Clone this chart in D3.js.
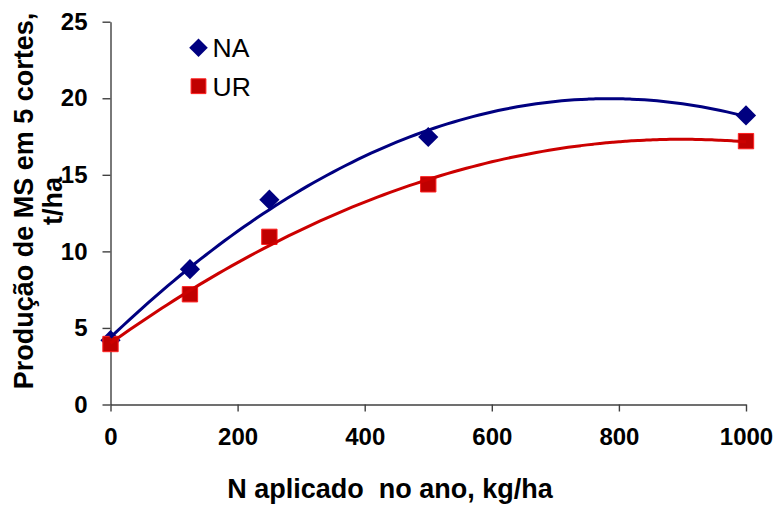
<!DOCTYPE html>
<html>
<head>
<meta charset="utf-8">
<script src="https://cdn.jsdelivr.net/npm/d3@7"></script>
<style>
  body { margin: 0; background: #fff; }
  text { font-family: "Liberation Sans", Arial, sans-serif; }
</style>
</head>
<body>
<svg id="chart" width="779" height="508"></svg>
<script>
// N applied (kg/ha)
const doses = [0, 125, 250, 500, 1000]
// dry matter, 5 cuts (t/ha)
const naValues = [4.2, 8.84, 13.38, 17.47, 18.88]
const urValues = [3.95, 7.2, 10.95, 14.38, 17.2]
const xTicks = [0, 200, 400, 600, 800, 1000]
const yTicks = [0, 5, 10, 15, 20, 25]

const width = 779, height = 508
const margin = {top: 21.7, right: 33, bottom: 103.5, left: 110.5}
const axisColor = '#404040'

var svg = d3.select('#chart')

var x = d3.scaleLinear().domain([0, 1000]).range([margin.left, width - margin.right])
var y = d3.scaleLinear().domain([0, 25]).range([height - margin.bottom, margin.top])

// quadratic least squares fit, like the excel trendline
function polyFit(xs, ys) {
  var s = [0, 0, 0, 0, 0], t = [0, 0, 0]
  for (var i = 0; i < xs.length; i++) {
    var p = 1
    for (var k = 0; k < 5; k++) {
      s[k] += p
      if (k < 3) t[k] += p * ys[i]
      p *= xs[i]
    }
  }
  var m = [[s[0], s[1], s[2], t[0]], [s[1], s[2], s[3], t[1]], [s[2], s[3], s[4], t[2]]]
  for (var c = 0; c < 3; c++) {
    for (var r = c + 1; r < 3; r++) {
      var f = m[r][c] / m[c][c]
      for (var j = c; j < 4; j++) m[r][j] -= f * m[c][j]
    }
  }
  var coef = [0, 0, 0]
  for (var r2 = 2; r2 >= 0; r2--) {
    var v = m[r2][3]
    for (var j2 = r2 + 1; j2 < 3; j2++) v -= m[r2][j2] * coef[j2]
    coef[r2] = v / m[r2][r2]
  }
  return (xv) => coef[0] + coef[1] * xv + coef[2] * xv * xv
}

// axes
var xAxis = svg.append('g')
  .attr('transform', 'translate(0,' + y(0) + ')')
  .call(d3.axisBottom(x).tickValues(xTicks).tickFormat(d3.format('d'))
    .tickSize(7).tickSizeOuter(0).tickPadding(16))
var yAxis = svg.append('g')
  .attr('transform', 'translate(' + x(0) + ',0)')
  .call(d3.axisLeft(y).tickValues(yTicks).tickFormat(d3.format('d'))
    .tickSize(8).tickSizeOuter(0).tickPadding(15))

;[xAxis, yAxis].forEach(function(a) {
  a.select('.domain').attr('stroke', axisColor).attr('stroke-width', 1.4)
  a.selectAll('.tick line').attr('stroke', axisColor).attr('stroke-width', 1.4)
  a.selectAll('.tick text')
    .attr('fill', '#000')
    .style('font-family', '"Liberation Sans", Arial, sans-serif')
    .style('font-size', '24px')
    .style('font-weight', 'bold')
})

// axis titles
svg.append('text')
  .attr('x', 390)
  .attr('y', 497.5)
  .attr('text-anchor', 'middle')
  .style('font-size', '27px')
  .style('font-weight', 'bold')
  .style('white-space', 'pre')
  .text('N aplicado  no ano, kg/ha')

var yTitle = svg.append('text')
  .attr('transform', 'translate(0,201) rotate(-90)')
  .attr('text-anchor', 'middle')
  .style('font-size', '27px')
  .style('font-weight', 'bold')
yTitle.append('tspan').attr('x', 0).attr('y', 33).text('Produção de MS em 5 cortes,')
yTitle.append('tspan').attr('x', 0).attr('y', 62).text('t/ha')

var series = [
  {name: 'NA', values: naValues, line: '#000080', fill: '#000080', stroke: 'none', shape: d3.symbolDiamond2},
  {name: 'UR', values: urValues, line: '#cc0000', fill: '#c00000', stroke: '#ff2020', shape: d3.symbolSquare2}
]

function markerPath(s, size) {
  return d3.symbol().type(s.shape).size(size)()
}

// markers
series.forEach(function(s) {
  var size = s.name === 'NA' ? 260 : 300
  svg.append('g').selectAll('path')
    .data(doses)
    .enter()
    .append('path')
    .attr('d', markerPath(s, size))
    .attr('transform', (d, i) => 'translate(' + x(d) + ',' + y(s.values[i]) + ')')
    .attr('fill', s.fill)
    .attr('stroke', s.stroke)
    .attr('stroke-width', 1)
})

// trend lines
series.forEach(function(s) {
  var f = polyFit(doses.map((d) => d / 100), s.values)
  var pts = d3.range(0, 1000.1, 10)
  svg.append('path')
    .datum(pts)
    .attr('fill', 'none')
    .attr('stroke', s.line)
    .attr('stroke-width', 3)
    .attr('d', d3.line().x((d) => x(d)).y((d) => y(f(d / 100))).curve(d3.curveMonotoneX))
})

// legend
var legend = svg.append('g')
series.forEach(function(s, i) {
  var cy = i === 0 ? 47.7 : 86.2
  legend.append('path')
    .attr('d', markerPath(s, i === 0 ? 220 : 280))
    .attr('transform', 'translate(198.5,' + cy + ')')
    .attr('fill', s.fill)
    .attr('stroke', s.stroke)
  legend.append('text')
    .attr('x', 212.5)
    .attr('y', cy + 9.3)
    .style('font-size', '26.5px')
    .text(s.name)
})
</script>
</body>
</html>
